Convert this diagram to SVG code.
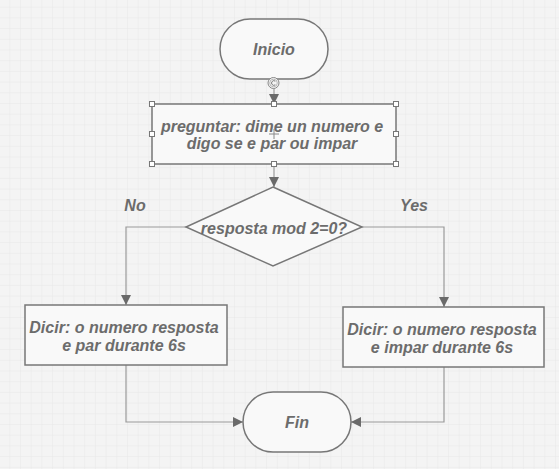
<svg xmlns="http://www.w3.org/2000/svg" width="559" height="469" viewBox="0 0 559 469">
<defs>
<pattern id="grid" x="9.3" y="6.7" width="10.7" height="10.7" patternUnits="userSpaceOnUse">
<path d="M0 0V10.7M0 0H10.7" fill="none" stroke="#e7e7e7" stroke-width="1"/>
</pattern>
<marker id="arr" viewBox="0 0 10 10" refX="10" refY="5" markerWidth="10" markerHeight="10" markerUnits="userSpaceOnUse" orient="auto">
<path d="M0 0L10 5L0 10Z" fill="#6a6a6a"/>
</marker>
</defs>
<style>
.node{fill:#f9f9f9;stroke:#777;stroke-width:1.5}
.t{font-family:"Liberation Sans",Arial,sans-serif;font-weight:bold;font-style:italic;font-size:16px;fill:#6c6c6c;text-anchor:middle}
.c{fill:none;stroke:#9a9a9a;stroke-width:1.2}
.h{fill:#fff;stroke:#777;stroke-width:1}
</style>
<rect width="559" height="469" fill="#f4f4f4"/>
<rect width="559" height="469" fill="url(#grid)"/>
<g id="connectors">
<path class="c" d="M274 79V104" marker-end="url(#arr)"/>
<path class="c" d="M274 164V187" marker-end="url(#arr)"/>
<path class="c" d="M186 227H126V305" marker-end="url(#arr)"/>
<path class="c" d="M362 227H444V307" marker-end="url(#arr)"/>
<path class="c" d="M126 365V422H243" marker-end="url(#arr)"/>
<path class="c" d="M444 367V422H351" marker-end="url(#arr)"/>
<text class="t" x="135" y="211">No</text>
<text class="t" x="414" y="211">Yes</text>
</g>
<g id="inicio">
<rect class="node" x="220" y="19" width="108" height="60" rx="30"/>
<text class="t" x="274" y="55">Inicio</text>
</g>
<g id="preguntar">
<rect class="node" x="152" y="104" width="244" height="60"/>
<text class="t" x="272" y="132">preguntar: dime un numero e</text>
<text class="t" x="272" y="149">digo se e par ou impar</text>
<path d="M269 134H279M274 129V139" stroke="#888" stroke-width="1"/>
<rect class="h" x="149.5" y="101.5" width="5" height="5"/>
<rect class="h" x="271.5" y="101.5" width="5" height="5"/>
<rect class="h" x="393.5" y="101.5" width="5" height="5"/>
<rect class="h" x="149.5" y="131.5" width="5" height="5"/>
<rect class="h" x="393.5" y="131.5" width="5" height="5"/>
<rect class="h" x="149.5" y="161.5" width="5" height="5"/>
<rect class="h" x="271.5" y="161.5" width="5" height="5"/>
<rect class="h" x="393.5" y="161.5" width="5" height="5"/>
<circle cx="273.5" cy="83" r="5.5" fill="#f4f4f4" stroke="#888" stroke-width="1"/>
<circle cx="273.5" cy="83" r="3.8" fill="none" stroke="#aaa" stroke-width="0.8"/>
<path d="M275.3 81.2A2.3 2.3 0 1 0 275.3 84.8" fill="none" stroke="#777" stroke-width="1"/>
</g>
<g id="decision">
<path class="node" d="M273 187L362 227L273 266L186 227Z"/>
<text class="t" x="274" y="234">resposta mod 2=0?</text>
</g>
<g id="dicir-par">
<rect class="node" x="25" y="305" width="202" height="60"/>
<text class="t" x="124" y="333">Dicir: o numero resposta</text>
<text class="t" x="124" y="351">e par durante 6s</text>
</g>
<g id="dicir-impar">
<rect class="node" x="343" y="307" width="201" height="60"/>
<text class="t" x="442" y="335">Dicir: o numero resposta</text>
<text class="t" x="442" y="353">e impar durante 6s</text>
</g>
<g id="fin">
<rect class="node" x="243" y="392" width="108" height="60" rx="30"/>
<text class="t" x="297" y="428">Fin</text>
</g>
</svg>
